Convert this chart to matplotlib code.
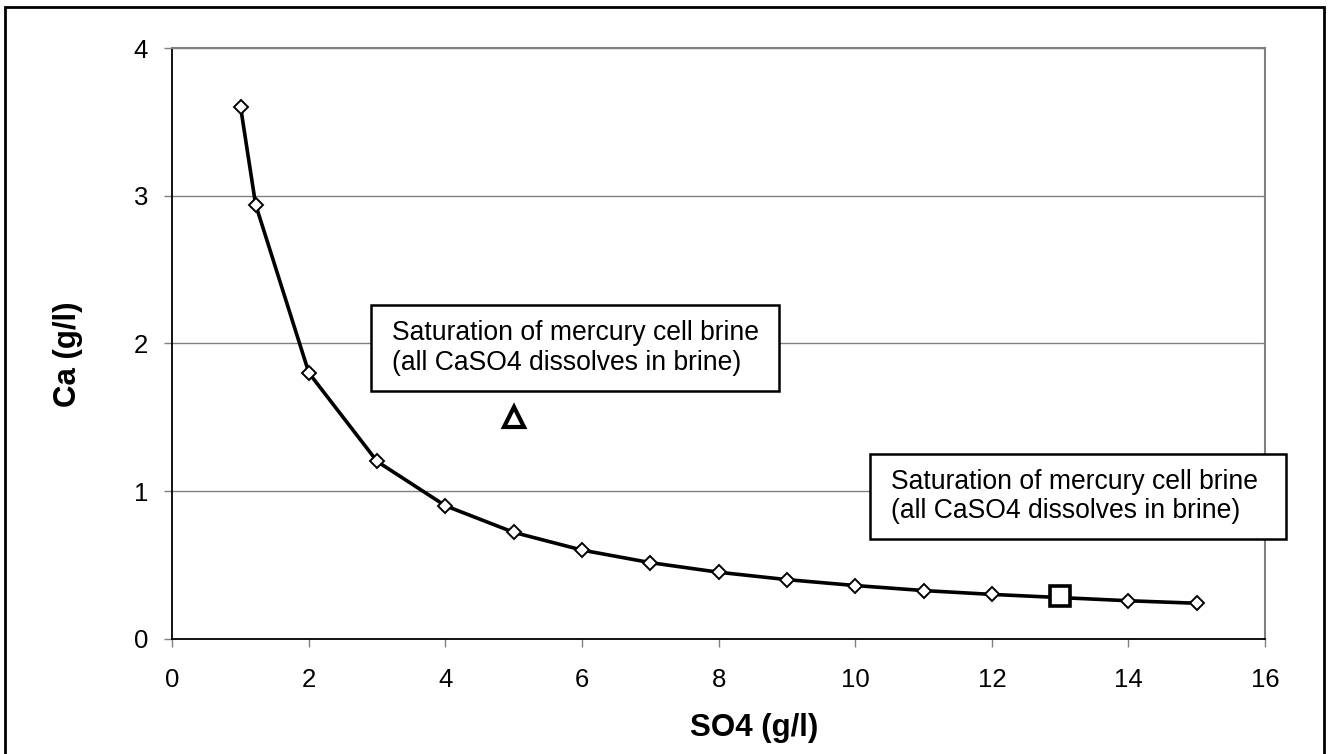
import matplotlib
matplotlib.use("Agg")
import matplotlib.pyplot as plt
from matplotlib.patches import Rectangle

plt.rcParams['font.family'] = ['Liberation Sans', 'DejaVu Sans']

# Data
so4 = [1, 1.22, 2, 3, 4, 5, 6, 7, 8, 9, 10, 11, 12, 14, 15]
ca = [3.60, 2.94, 1.80, 1.20, 0.90, 0.72, 0.60, 0.515, 0.45, 0.40, 0.36, 0.326, 0.30, 0.257, 0.24]
tri_point = (5, 1.5)
sq_point = (13, 0.29)
box_text = "Saturation of mercury cell brine\n(all CaSO4 dissolves in brine)"
x_ticks = [0, 2, 4, 6, 8, 10, 12, 14, 16]
y_ticks = [0, 1, 2, 3, 4]
x_label = "SO4 (g/l)"
y_label = "Ca (g/l)"

W, H = 1332, 754
fig = plt.figure(figsize=(W / 100, H / 100), dpi=100)
fig.patch.set_facecolor('white')

left, right, top, bottom = 172.3, 1265, 48, 638.7
ax = fig.add_axes([left / W, 1 - bottom / H, (right - left) / W, (bottom - top) / H])
ax.set_xlim(0, 16)
ax.set_ylim(0, 4)
ax.set_xticks(x_ticks)
ax.set_yticks(y_ticks)
ax.set_xticklabels([str(t) for t in x_ticks])
ax.set_yticklabels([str(t) for t in y_ticks])
ax.tick_params(axis='both', direction='out', length=5.5, width=1, color='#808080', labelsize=18.5)
ax.tick_params(axis='x', pad=15.5)
ax.tick_params(axis='y', pad=12)
ax.yaxis.grid(True, color='#808080', linewidth=1)
ax.set_axisbelow(True)
for s in ['left', 'bottom']:
    ax.spines[s].set_color('black')
    ax.spines[s].set_linewidth(1.3)
for s in ['top', 'right']:
    ax.spines[s].set_color('#808080')
    ax.spines[s].set_linewidth(1.5)

ax.plot(so4, ca, color='black', linewidth=2.6, marker='D', markersize=7.5,
        markerfacecolor='white', markeredgecolor='black', markeredgewidth=1.4, zorder=3)
ax.plot([tri_point[0]], [tri_point[1]], marker='^', markersize=14, markerfacecolor='white',
        markeredgecolor='black', markeredgewidth=3, linestyle='none', zorder=4)
ax.plot([sq_point[0]], [sq_point[1]], marker='s', markersize=14.5, markerfacecolor='white',
        markeredgecolor='black', markeredgewidth=2.6, linestyle='none', zorder=4)

# Text boxes (data coords)
def box(x0, x1, y0, y1, tx):
    r = Rectangle((x0, y0), x1 - x0, y1 - y0, facecolor='white', edgecolor='black',
                  linewidth=1.8, clip_on=False, zorder=5)
    ax.add_patch(r)
    ax.text(tx, (y0 + y1) / 2, box_text, fontsize=19.1, ha='left', va='center',
            linespacing=1.18, zorder=6, clip_on=False)

box(2.905, 8.88, 1.677, 2.26, 3.21)
box(10.21, 16.31, 0.675, 1.251, 10.52)

fig.text(754 / W, 1 - 728 / H, x_label, fontsize=22.5, fontweight='bold', ha='center', va='center')
fig.text(68 / W, 1 - 354 / H, y_label, fontsize=22.5, fontweight='bold', ha='center', va='center',
         rotation=90)

# Outer chart border
fig.patches.append(Rectangle((5 / W, -0.05), (1324 - 5) / W, 1 - 6.5 / H + 0.05,
                             transform=fig.transFigure, fill=False, edgecolor='black',
                             linewidth=2, figure=fig))

fig.savefig('out.png', dpi=100)
